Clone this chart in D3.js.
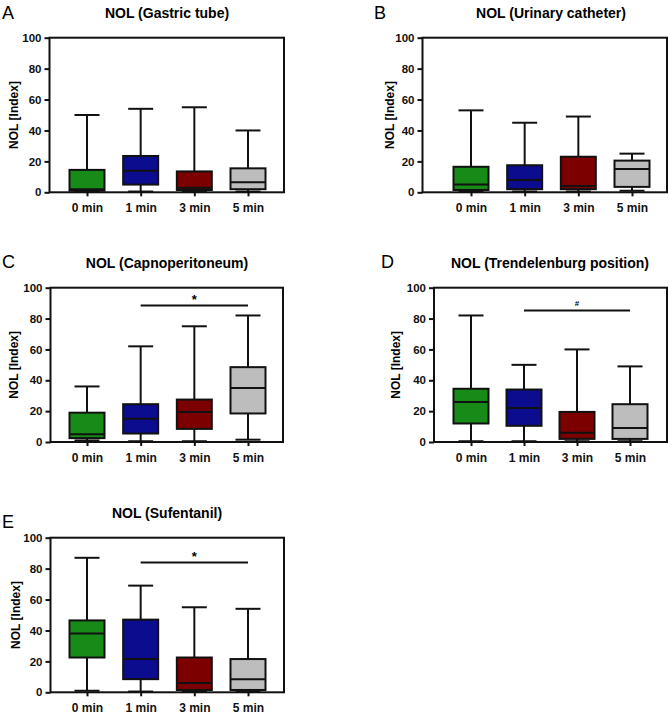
<!DOCTYPE html>
<html>
<head>
<meta charset="utf-8">
<script src="https://cdn.jsdelivr.net/npm/d3@7"></script>
<style>
  body { margin: 0; background: #fff; }
  text { font-family: "Liberation Sans", Arial, sans-serif; }
</style>
</head>
<body>
<svg id="chart" width="669" height="714"></svg>
<script>
const categories = ['0 min', '1 min', '3 min', '5 min'];
const yTicks = [0, 20, 40, 60, 80, 100];

// each box: [min, q1, median, q3, max]
const gastricTube = [[0.5, 1, 2, 14.5, 50], [0.5, 5, 14, 23.5, 54], [0.5, 1.5, 3, 13.5, 55], [0.5, 2, 6.5, 15.5, 40]];
const urinaryCatheter = [[0.5, 1.5, 5, 16.5, 53], [0.5, 2, 8, 17.5, 45], [0.5, 2, 4, 23, 49], [1, 3.5, 15, 20.5, 25]];
const capnoperitoneum = [[1, 2.5, 5, 19, 36], [0.5, 5.5, 15, 24.5, 62], [0.5, 8.5, 19.5, 27.5, 75], [1.5, 18.5, 35, 48.5, 82]];
const trendelenburg = [[0.5, 12, 26, 34.5, 82], [0.5, 10.5, 22, 34, 50], [0.5, 2, 6, 19.5, 60], [0.5, 2, 9, 24.5, 49]];
const sufentanil = [[1, 22.5, 38, 46.5, 87], [0.5, 8.5, 21.5, 47, 69], [0.5, 1.5, 6, 22.5, 55], [0.5, 1.5, 8.5, 21.5, 54]];

// significance bars: [from, to, value, mark]
const sigCapno = ['1 min', '5 min', 88.5, '*'];
const sigTrend = ['1 min', '5 min', 85.3, '#'];
const sigSufen = ['1 min', '5 min', 84, '*'];

const colors = ['#178a17', '#0c0c8e', '#7c0000', '#bdbdbd'];

const panels = [
  { letter: 'A', title: 'NOL (Gastric tube)', data: gastricTube, sig: null,
    x0: 49.5, x1: 284, top: 37.7, bottom: 192.3, cx: [87, 248], lx: 2, ly: 18.5, tx: 167, ty: 18, labX: 14 },
  { letter: 'B', title: 'NOL (Urinary catheter)', data: urinaryCatheter, sig: null,
    x0: 422.5, x1: 667, top: 37.7, bottom: 192.3, cx: [471, 632], lx: 374, ly: 18.5, tx: 551, ty: 18, labX: 390 },
  { letter: 'C', title: 'NOL (Capnoperitoneum)', data: capnoperitoneum, sig: sigCapno,
    x0: 50.5, x1: 283, top: 287.7, bottom: 442, cx: [87, 248], lx: 2, ly: 268, tx: 167, ty: 268, labX: 14 },
  { letter: 'D', title: 'NOL (Trendelenburg position)', data: trendelenburg, sig: sigTrend,
    x0: 434, x1: 667, top: 287.7, bottom: 442, cx: [471, 630], lx: 381, ly: 268, tx: 550, ty: 268, labX: 396 },
  { letter: 'E', title: 'NOL (Sufentanil)', data: sufentanil, sig: sigSufen,
    x0: 50.5, x1: 284, top: 537.7, bottom: 692.3, cx: [87, 248], lx: 2, ly: 528, tx: 167, ty: 518, labX: 16 }
];

const svg = d3.select('#chart');
const boxW = 35, capW = 25;

panels.forEach(p => {
  const g = svg.append('g');
  const x = d3.scalePoint().domain(categories).range(p.cx);
  const y = d3.scaleLinear().domain([0, 100]).range([p.bottom, p.top]);

  g.append('text').attr('x', p.lx).attr('y', p.ly)
    .attr('font-size', 18).text(p.letter);
  g.append('text').attr('x', p.tx).attr('y', p.ty)
    .attr('text-anchor', 'middle').attr('font-size', 14).attr('font-weight', 'bold')
    .text(p.title);
  g.append('text')
    .attr('transform', `translate(${p.labX},${(p.top + p.bottom) / 2}) rotate(-90)`)
    .attr('text-anchor', 'middle').attr('dy', '0.35em')
    .attr('font-size', 12).attr('font-weight', 'bold')
    .text('NOL [Index]');

  // frame
  g.append('rect')
    .attr('x', p.x0).attr('y', p.top)
    .attr('width', p.x1 - p.x0).attr('height', p.bottom - p.top)
    .attr('fill', 'none').attr('stroke', '#111').attr('stroke-width', 2);

  const ya = g.append('g').attr('transform', `translate(${p.x0},0)`)
    .call(d3.axisLeft(y).tickValues(yTicks).tickSize(5).tickPadding(3));
  const xa = g.append('g').attr('transform', `translate(0,${p.bottom})`)
    .call(d3.axisBottom(x).tickSize(4).tickPadding(7));
  [ya, xa].forEach(a => {
    a.select('.domain').remove();
    a.selectAll('line').attr('stroke', '#111').attr('stroke-width', 2);
    a.selectAll('text').attr('font-size', 11.5).attr('font-weight', 'bold')
      .attr('fill', '#111').attr('font-family', '"Liberation Sans", Arial, sans-serif');
  });
  xa.selectAll('text').attr('font-size', 12);

  const boxes = g.selectAll('g.box').data(p.data).join('g').attr('class', 'box')
    .attr('transform', (d, i) => `translate(${x(categories[i])},0)`);
  const line = (sel, x1, y1, x2, y2) => sel.append('line')
    .attr('x1', x1).attr('y1', y1).attr('x2', x2).attr('y2', y2)
    .attr('stroke', '#111').attr('stroke-width', 2);

  boxes.each(function (d) {
    const b = d3.select(this);
    line(b, 0, y(d[0]), 0, y(d[1]));
    line(b, 0, y(d[3]), 0, y(d[4]));
    line(b, -capW / 2, y(d[0]), capW / 2, y(d[0]));
    line(b, -capW / 2, y(d[4]), capW / 2, y(d[4]));
  });
  boxes.append('rect')
    .attr('x', -boxW / 2).attr('width', boxW)
    .attr('y', d => y(d[3])).attr('height', d => y(d[1]) - y(d[3]))
    .attr('fill', (d, i) => colors[i])
    .attr('stroke', '#111').attr('stroke-width', 2);
  boxes.each(function (d) {
    line(d3.select(this), -boxW / 2, y(d[2]), boxW / 2, y(d[2]));
  });

  if (p.sig) {
    const [from, to, v, mark] = p.sig;
    line(g, x(from), y(v), x(to), y(v));
    g.append('text')
      .attr('x', (x(from) + x(to)) / 2)
      .attr('y', y(v) - (mark === '*' ? 1 : 4))
      .attr('text-anchor', 'middle')
      .attr('font-size', mark === '*' ? 13 : 8).attr('font-weight', 'bold')
      .text(mark);
  }
});
</script>
</body>
</html>
